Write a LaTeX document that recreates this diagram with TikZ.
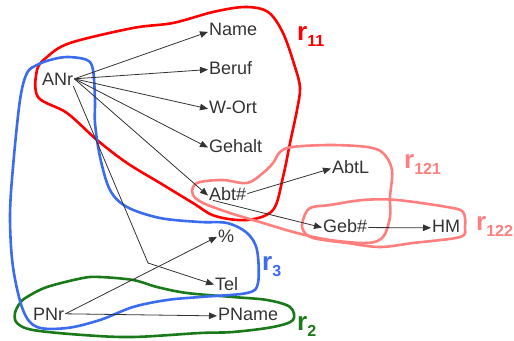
\documentclass[tikz,border=0pt]{standalone}
\usepackage{fontspec}
\setmainfont{Liberation Sans}
\usetikzlibrary{arrows.meta}
\definecolor{txt}{HTML}{333333}
\definecolor{rred}{HTML}{FF0000}
\definecolor{rpink}{HTML}{FF7F7F}
\definecolor{rblue}{HTML}{3B6CF0}
\definecolor{rgreen}{HTML}{1A7A1A}
\tikzset{
  lbl/.style={anchor=base west,inner sep=1pt,text=txt,font=\fontsize{18}{20}\selectfont},
  conn/.style={draw=txt,line width=0.8pt,-{Triangle[length=8pt,width=6.5pt]}},
  plain/.style={draw=txt,line width=0.8pt},
  blob/.style={line width=2.6pt,smooth cycle,tension=0.55},
  rlab/.style={anchor=base west,inner sep=0pt,font=\bfseries}
}
\newcommand{\rlabel}[1]{\fontsize{26}{26}\selectfont r\raisebox{-6pt}{\fontsize{16}{16}\selectfont #1}}
\begin{document}
\begin{tikzpicture}[x=1pt,y=-1pt]
\useasboundingbox (0,0) rectangle (514,340);
% blobs
\draw[blob,rred] plot coordinates {(37,70) (38,97) (67,113) (97,140) (127,163) (160,183) (193,203) (215,216) (247,220) (273,210) (283,177) (290,143) (297,110) (300,88) (295,67) (283,33) (268,12) (245,7) (213,12) (173,23) (133,28) (70,43) (47,57)};
\draw[blob,rpink] plot coordinates {(193,187) (200,182) (223,180) (247,183) (263,173) (273,163) (280,152) (292,147) (330,145) (367,147) (383,153) (392,170) (390,197) (390,217) (383,237) (367,243) (330,240) (297,233) (263,223) (230,213) (203,203) (193,195)};
\draw[blob,rpink] plot coordinates {(303,220) (310,208) (330,205) (363,200) (397,200) (447,207) (463,212) (465,227) (460,237) (413,243) (380,247) (347,243) (313,238) (303,230)};
\draw[blob,rgreen] plot coordinates {(20,303) (27,297) (47,287) (83,278) (100,277) (133,280) (157,287) (187,293) (233,297) (267,300) (290,307) (293,320) (273,327) (233,332) (200,333) (133,337) (83,335) (33,330) (17,323) (15,313)};
\draw[blob,rblue] plot coordinates {(37,65) (50,60) (67,57) (87,60) (93,70) (95,100) (95,123) (100,157) (110,190) (127,207) (160,218) (200,222) (227,223) (247,233) (257,250) (258,283) (247,293) (200,297) (167,300) (133,307) (100,320) (67,328) (37,327) (23,310) (13,267) (10,217) (13,167) (20,100) (27,73)};
% labels of regions
\node[rlab,text=rred] (r11) at (297,40) {\rlabel{11}};
\node[rlab,text=rpink] (r121) at (404,168) {\rlabel{121}};
\node[rlab,text=rpink] (r122) at (476,230) {\rlabel{122}};
\node[rlab,text=rblue] (r3) at (262,270) {\rlabel{3}};
\node[rlab,text=rgreen] (r2) at (297,330) {\rlabel{2}};
% attribute nodes
\node[lbl] (ANr) at (41,85) {ANr};
\node[lbl] (Name) at (208,35) {Name};
\node[lbl] (Beruf) at (208,74) {Beruf};
\node[lbl] (WOrt) at (208,113) {W-Ort};
\node[lbl] (Gehalt) at (208,152) {Gehalt};
\node[lbl] (Abt) at (208,200) {Abt\#};
\node[lbl] (AbtL) at (331,173) {AbtL};
\node[lbl] (Geb) at (322,232) {Geb\#};
\node[lbl] (HM) at (431,232) {HM};
\node[lbl] (Pct) at (217,242) {\%};
\node[lbl] (Tel) at (214,290) {Tel};
\node[lbl] (PNr) at (32,320) {PNr};
\node[lbl] (PName) at (217,320) {PName};
\coordinate (J) at (148,263);
% connectors
\draw[conn] (ANr.east) -- ([yshift=-3pt]Name.west);
\draw[conn] (ANr.east) -- ([yshift=-2pt]Beruf.west);
\draw[conn] (ANr.east) -- ([yshift=-2pt]WOrt.west);
\draw[conn] (ANr.east) -- ([yshift=-2pt]Gehalt.west);
\draw[conn] (ANr.east) -- ([yshift=-2pt]Abt.west);
\draw[plain] ([xshift=-1pt]ANr.south east) -- (J);
\draw[conn] (J) -- ([yshift=-1pt]Tel.west);
\draw[conn] (PNr.east) -- ([yshift=-1pt]Pct.west);
\draw[conn] (PNr.east) -- ([yshift=-2pt]PName.west);
\draw[conn] (Abt.east) -- ([yshift=-2pt]AbtL.west);
\draw[conn] ([xshift=5pt,yshift=1pt]Abt.south west) -- ([yshift=-2pt]Geb.west);
\draw[conn] ([yshift=-2pt]Geb.east) -- ([yshift=-2pt]HM.west);
\end{tikzpicture}
\end{document}
